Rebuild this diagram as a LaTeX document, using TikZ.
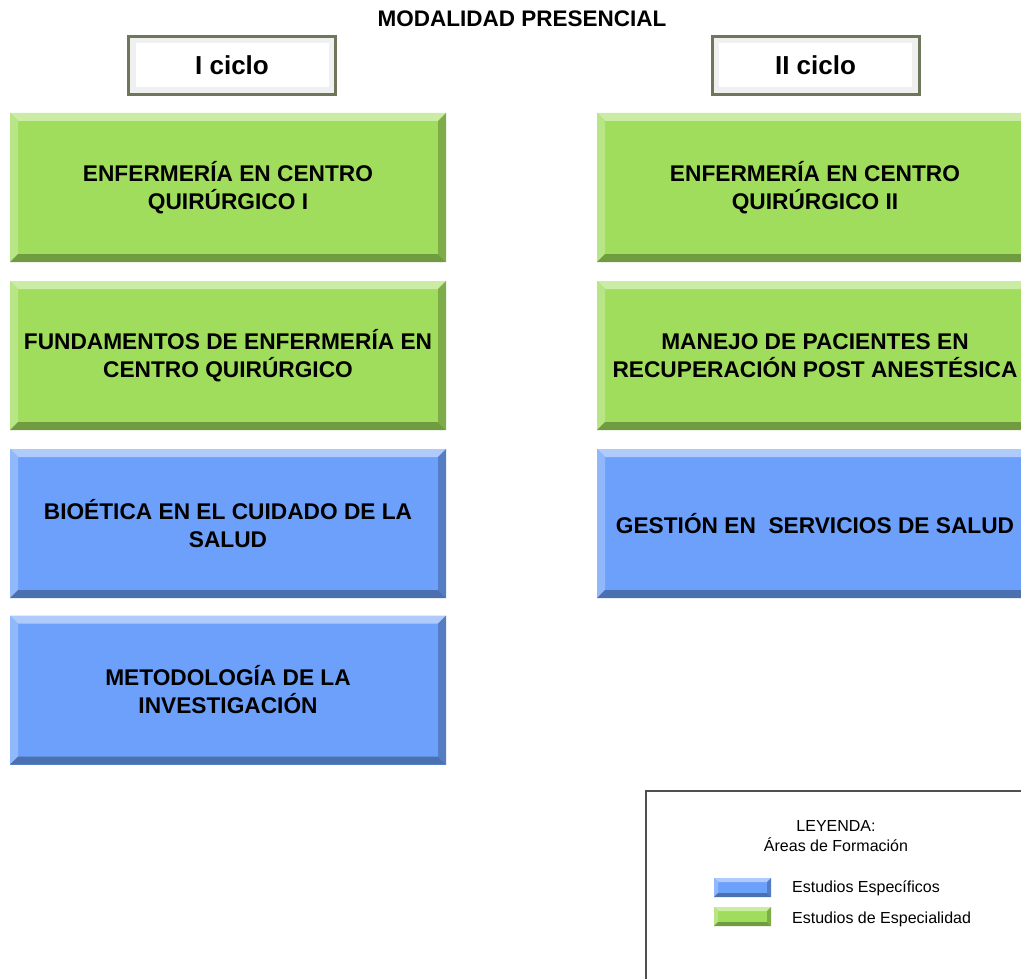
\documentclass[tikz,border=0pt]{standalone}
\usepackage{fontspec}
\setmainfont{Liberation Sans}
\definecolor{gfill}{RGB}{160,221,92}
\definecolor{bfill}{RGB}{108,160,250}
\definecolor{hborder}{RGB}{110,118,92}
\definecolor{lborder}{RGB}{80,80,80}
\tikzset{
  bev/.style n args={2}{fill=#1, path picture={
    \fill[#1!55!white] (path picture bounding box.north west) -- (path picture bounding box.north east)
      -- ([xshift=-#2,yshift=-#2]path picture bounding box.north east) -- ([xshift=#2,yshift=-#2]path picture bounding box.north west) -- cycle;
    \fill[#1!75!white] (path picture bounding box.north west) -- (path picture bounding box.south west)
      -- ([xshift=#2,yshift=#2]path picture bounding box.south west) -- ([xshift=#2,yshift=-#2]path picture bounding box.north west) -- cycle;
    \fill[#1!70!black] (path picture bounding box.south west) -- (path picture bounding box.south east)
      -- ([xshift=-#2,yshift=#2]path picture bounding box.south east) -- ([xshift=#2,yshift=#2]path picture bounding box.south west) -- cycle;
    \fill[#1!78!black] (path picture bounding box.north east) -- (path picture bounding box.south east)
      -- ([xshift=-#2,yshift=#2]path picture bounding box.south east) -- ([xshift=-#2,yshift=-#2]path picture bounding box.north east) -- cycle;
  }},
  course/.style={inner sep=0pt, minimum width=436pt, minimum height=149pt, align=center,
    font=\bfseries\fontsize{22.7}{28}\selectfont, text=black},
  gbox/.style={course, bev={gfill}{8pt}},
  bbox/.style={course, bev={bfill}{8pt}},
  hbox/.style={inner sep=0pt, minimum width=207pt, minimum height=58pt, draw=hborder, line width=3pt,
    font=\bfseries\fontsize{26}{30}\selectfont, bev={white!88!gray}{7pt},
    path picture={\fill[white] ([xshift=7pt,yshift=-7pt]path picture bounding box.north west) rectangle ([xshift=-7pt,yshift=7pt]path picture bounding box.south east);}},
  swatch/.style={inner sep=0pt, minimum width=57pt, minimum height=19pt},
  legtxt/.style={font=\fontsize{16}{19}\selectfont, inner sep=0pt},
}
\begin{document}
\begin{tikzpicture}[x=1pt,y=-1pt]
\clip (0,0) rectangle (1021,979);
\fill[white] (0,0) rectangle (1021,979);
\node[font=\bfseries\fontsize{22.5}{26}\selectfont] (title) at (522,19) {MODALIDAD PRESENCIAL};
\node[hbox] (c1) at (232,65.5) {I ciclo};
\node[hbox] (c2) at (815.5,65.5) {II ciclo};
\node[gbox] (e1) at (228,187.5) {ENFERMERÍA EN CENTRO\\QUIRÚRGICO I};
\node[gbox] (f1) at (228,355.5) {FUNDAMENTOS DE ENFERMERÍA EN\\CENTRO QUIRÚRGICO};
\node[bbox] (b1) at (228,523.5) {BIOÉTICA EN EL CUIDADO DE LA\\SALUD};
\node[bbox] (m1) at (228,690) {METODOLOGÍA DE LA\\INVESTIGACIÓN};
\node[gbox] (e2) at (815,187.5) {ENFERMERÍA EN CENTRO\\QUIRÚRGICO II};
\node[gbox] (m2) at (815,355.5) {MANEJO DE PACIENTES EN\\RECUPERACIÓN POST ANESTÉSICA};
\node[bbox] (g2) at (815,523.5) {GESTIÓN EN\ \ SERVICIOS DE SALUD};
\node[draw=lborder, line width=2pt, fill=white, minimum width=390pt, minimum height=200pt, inner sep=0pt] (leg) at (841,891) {};
\node[legtxt] (lt1) at (836,826) {LEYENDA:};
\node[legtxt] (lt2) at (836,845) {Áreas de Formación};
\node[swatch, bev={bfill}{4pt}] (sb) at (742.5,887.5) {};
\node[swatch, bev={gfill}{4pt}] (sg) at (742.5,916.5) {};
\node[legtxt, anchor=west] (lb) at (792,888) {Estudios Específicos};
\node[legtxt, anchor=west] (lg) at (792,919) {Estudios de Especialidad};
\end{tikzpicture}
\end{document}
